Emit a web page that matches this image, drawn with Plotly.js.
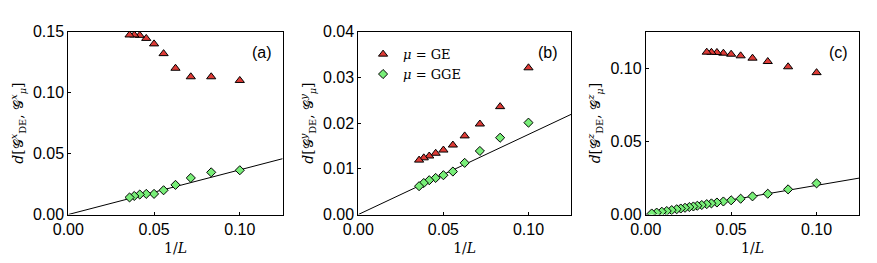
<!DOCTYPE html>
<html><head><meta charset="utf-8">
<script src="https://cdn.plot.ly/plotly-3.0.1.min.js"></script>
<style>html,body{margin:0;padding:0;background:#fff}#chart{width:877px;height:263px}</style>
</head><body><div id="chart"></div>
<script>
// 1/L values for L = 10,12,...,28
const invL = [0.1, 0.08333, 0.07143, 0.0625, 0.05556, 0.05, 0.04545, 0.04167, 0.03846, 0.03571];
// panel (a)
const geA  = [0.110, 0.113, 0.113, 0.120, 0.132, 0.140, 0.1445, 0.147, 0.1473, 0.1473];
const ggeA = [0.0363, 0.0346, 0.0300, 0.0243, 0.0199, 0.0169, 0.0169, 0.0164, 0.0152, 0.0140];
// panel (b)
const geB  = [0.0321, 0.0236, 0.0198, 0.0172, 0.0152, 0.0141, 0.0134, 0.0128, 0.0124, 0.0119];
const ggeB = [0.0201, 0.0168, 0.0139, 0.0113, 0.0094, 0.0086, 0.0080, 0.0075, 0.0069, 0.0062];
// panel (c)
const geC  = [0.097, 0.101, 0.1046, 0.1069, 0.1085, 0.1096, 0.1103, 0.1108, 0.1109, 0.1110];
const invLC = [0.1, 0.08333, 0.07143, 0.0625, 0.05556, 0.05, 0.04545, 0.04167, 0.03846, 0.03571,
               0.0328, 0.0302, 0.0279, 0.0255, 0.0230, 0.0205, 0.0181, 0.0152, 0.0123, 0.0094, 0.0064, 0.0035];
const ggeC = [0.0213, 0.0172, 0.0142, 0.0124, 0.0108, 0.0097, 0.0089, 0.0082, 0.0076, 0.0071,
              0.0065, 0.0060, 0.0055, 0.0051, 0.0046, 0.0041, 0.0036, 0.0030, 0.0024, 0.0019, 0.0013, 0.0007];
// linear fits through origin
const fitX = [0, 0.125];
const fitA = [0, 0.0458];
const fitB = [0, 0.0219];
const fitC = [0, 0.0249];
const xTicks = [0, 0.05, 0.10];
const xTickText = ['0.00', '0.05', '0.10'];

const red = '#de3b36', green = '#78ee78';
const triM = {symbol: 'triangle-up', size: 8, color: red, line: {color: '#000', width: 1}};
const diaM = {symbol: 'diamond', size: 7, color: green, line: {color: '#000', width: 1}};

function panel(n, ge, ggeX, gge, fit, leg) {
  const xa = n === 1 ? 'x' : 'x' + n, ya = n === 1 ? 'y' : 'y' + n;
  return [
    {x: fitX, y: fit, xaxis: xa, yaxis: ya, mode: 'lines', line: {color: '#000', width: 1}, showlegend: false, hoverinfo: 'skip'},
    {x: invL, y: ge, xaxis: xa, yaxis: ya, mode: 'markers', marker: triM, name: '<i>μ</i> = GE', showlegend: leg},
    {x: ggeX, y: gge, xaxis: xa, yaxis: ya, mode: 'markers', marker: diaM, name: '<i>μ</i> = GGE', showlegend: leg}
  ];
}
const data = [].concat(
  panel(1, geA, invL, ggeA, fitA, false),
  panel(2, geB, invL, ggeB, fitB, true),
  panel(3, geC, invLC, ggeC, fitC, false)
);

const tickFont = {family: 'Liberation Sans, Arial, sans-serif', size: 16, color: '#000'};
const serif = {family: 'DejaVu Serif, Liberation Serif, serif', size: 14, color: '#000'};
function xax(dom, anchor) {
  return {domain: dom, anchor: anchor, range: [0, 0.125], tickvals: xTicks, ticktext: xTickText,
    ticks: 'inside', ticklen: 3, tickwidth: 1, tickcolor: '#000', showline: true, linecolor: '#000', linewidth: 1,
    mirror: true, showgrid: false, zeroline: false, tickfont: tickFont,
    title: {text: '1/<i>L</i>', font: serif, standoff: 6}};
}
function yax(range, tv, tt, anchor, sup) {
  return {domain: [0.1844, 0.8795], anchor: anchor, range: range, tickvals: tv, ticktext: tt,
    ticks: 'inside', ticklen: 3, tickwidth: 1, tickcolor: '#000', showline: true, linecolor: '#000', linewidth: 1,
    mirror: true, showgrid: false, zeroline: false, tickfont: tickFont,
    title: {text: '<i>d</i>[𝒢<sup><i>' + sup + '</i></sup><sub>DE</sub>, 𝒢<sup><i>' + sup + '</i></sup><sub><i>μ</i></sub>]', font: serif, standoff: 6}};
}
const layout = {
  width: 877, height: 263, margin: {l: 0, r: 0, t: 0, b: 0},
  paper_bgcolor: '#fff', plot_bgcolor: '#fff',
  xaxis: xax([0.0779, 0.3223], 'y'),
  yaxis: yax([0, 0.15], [0, 0.05, 0.10, 0.15], ['0.00', '0.05', '0.10', '0.15'], 'x', 'x'),
  xaxis2: xax([0.4086, 0.6511], 'y2'),
  yaxis2: yax([0, 0.04], [0, 0.01, 0.02, 0.03, 0.04], ['0.00', '0.01', '0.02', '0.03', '0.04'], 'x2', 'y'),
  xaxis3: xax([0.7363, 0.9798], 'y3'),
  yaxis3: yax([0, 0.125], [0, 0.05, 0.10], ['0.00', '0.05', '0.10'], 'x3', 'z'),
  showlegend: true,
  legend: {x: 0.414, y: 0.851, xanchor: 'left', yanchor: 'top', bgcolor: 'rgba(0,0,0,0)',
    font: {family: 'DejaVu Serif, Liberation Serif, serif', size: 13, color: '#000'}, tracegroupgap: 0, itemwidth: 30},
  annotations: [
    {text: '(a)', xref: 'paper', yref: 'paper', x: 262 / 877, y: 1 - 52 / 263, xanchor: 'center', yanchor: 'middle', showarrow: false, font: tickFont},
    {text: '(b)', xref: 'paper', yref: 'paper', x: 548 / 877, y: 1 - 52 / 263, xanchor: 'center', yanchor: 'middle', showarrow: false, font: tickFont},
    {text: '(c)', xref: 'paper', yref: 'paper', x: 838 / 877, y: 1 - 52 / 263, xanchor: 'center', yanchor: 'middle', showarrow: false, font: tickFont}
  ]
};
Plotly.newPlot('chart', data, layout, {staticPlot: true});
</script></body></html>
